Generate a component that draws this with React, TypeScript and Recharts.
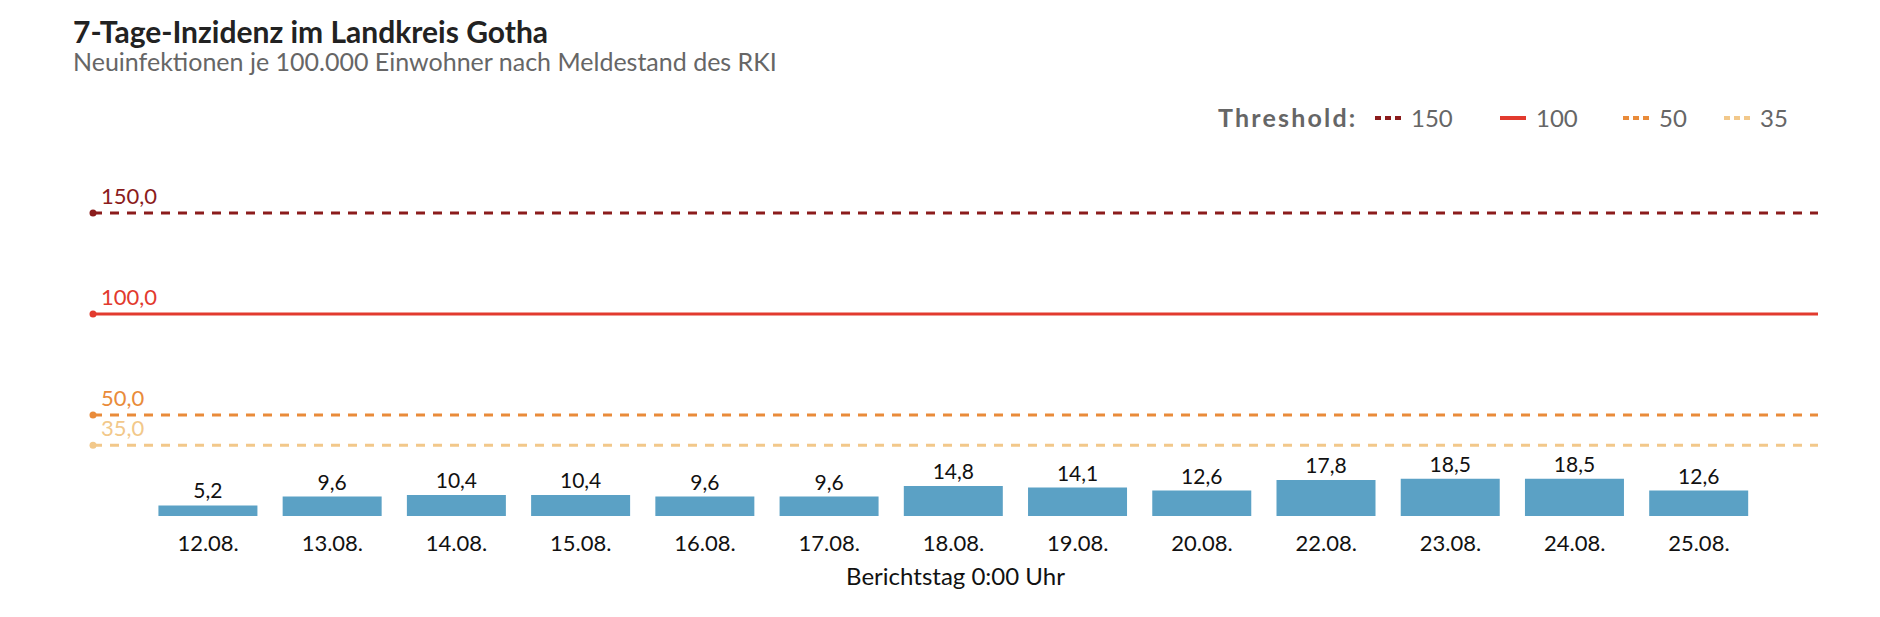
import React from "react";
import { ComposedChart, Bar, XAxis, YAxis, ReferenceLine, LabelList } from "recharts";

// 7-Tage-Inzidenz, Landkreis Gotha (RKI Meldestand)
const dates = [
  "12.08.", "13.08.", "14.08.", "15.08.", "16.08.", "17.08.", "18.08.",
  "19.08.", "20.08.", "22.08.", "23.08.", "24.08.", "25.08.",
];
const incidence = [5.2, 9.6, 10.4, 10.4, 9.6, 9.6, 14.8, 14.1, 12.6, 17.8, 18.5, 18.5, 12.6];

const thresholdValues = [150, 100, 50, 35];
const thresholdColors = ["#8b1c1c", "#e23a2e", "#e98b3a", "#f2c88a"];
const thresholdDashed = [true, false, true, true];

// legend item start positions (layout only)
const legendX = [1375, 1500, 1623, 1724];

const data = dates.map((date, i) => ({ date, value: incidence[i] }));

const fmt = (v: number) => v.toFixed(1).replace(".", ",");

const FONT = "Lato, 'Noto Sans', sans-serif";

function thresholdLabel(value: number, color: string) {
  return (props: any) => {
    const { x, y } = props.viewBox;
    return (
      <g>
        <circle cx={x} cy={y} r={3.5} fill={color} />
        <text x={x + 8} y={y - 9} fill={color} fontSize={22} fontFamily={FONT}>
          {fmt(value)}
        </text>
      </g>
    );
  };
}

export default function App() {
  return (
    <div style={{ position: "absolute", left: 0, top: 0, width: 1880, height: 617, background: "#fff" }}>
      <ComposedChart
        width={1880}
        height={617}
        data={data}
        margin={{ top: 213, right: 62, bottom: 31, left: 93 }}
        barCategoryGap="10%"
      >
        <XAxis
          dataKey="date"
          interval={0}
          tickLine={false}
          axisLine={false}
          tickSize={0}
          tickMargin={19}
          height={70}
          padding={{ left: 53, right: 57 }}
          tick={{ fontSize: 22, fill: "#111", fontFamily: FONT }}
          label={{
            value: "Berichtstag 0:00 Uhr",
            position: "insideBottom",
            offset: 1,
            fontSize: 24,
            fill: "#111",
            fontFamily: FONT,
          }}
        />
        <YAxis hide domain={[0, 150]} allowDataOverflow />
        {thresholdValues.map((v, i) => (
          <ReferenceLine
            key={v}
            y={v}
            stroke={thresholdColors[i]}
            strokeWidth={3}
            strokeDasharray={thresholdDashed[i] ? "9 8" : undefined}
            label={thresholdLabel(v, thresholdColors[i])}
          />
        ))}
        <Bar dataKey="value" fill="#5ba1c5" isAnimationActive={false}>
          <LabelList
            dataKey="value"
            position="top"
            offset={7}
            formatter={(v: any) => fmt(Number(v))}
            fill="#111"
            fontSize={21}
            fontFamily={FONT}
          />
        </Bar>
      </ComposedChart>

      <svg
        width={1880}
        height={617}
        style={{ position: "absolute", left: 0, top: 0, pointerEvents: "none" }}
      >
        <text x={73} y={43} fontSize={30} fontWeight={700} fill="#222" fontFamily={FONT}>
          7-Tage-Inzidenz im Landkreis Gotha
        </text>
        <text x={73} y={71} fontSize={25} fill="#666" fontFamily={FONT}>
          Neuinfektionen je 100.000 Einwohner nach Meldestand des RKI
        </text>
        <text
          x={1218}
          y={127}
          fontSize={25}
          fontWeight={700}
          letterSpacing={2.2}
          fill="#666"
          fontFamily={FONT}
        >
          Threshold:
        </text>
        {thresholdValues.map((v, i) => (
          <g key={v}>
            <line
              x1={legendX[i]}
              x2={legendX[i] + 26}
              y1={118}
              y2={118}
              stroke={thresholdColors[i]}
              strokeWidth={4}
              strokeDasharray={thresholdDashed[i] ? "6 4" : undefined}
            />
            <text x={legendX[i] + 36} y={127} fontSize={24} fill="#666" fontFamily={FONT}>
              {v}
            </text>
          </g>
        ))}
      </svg>
    </div>
  );
}
